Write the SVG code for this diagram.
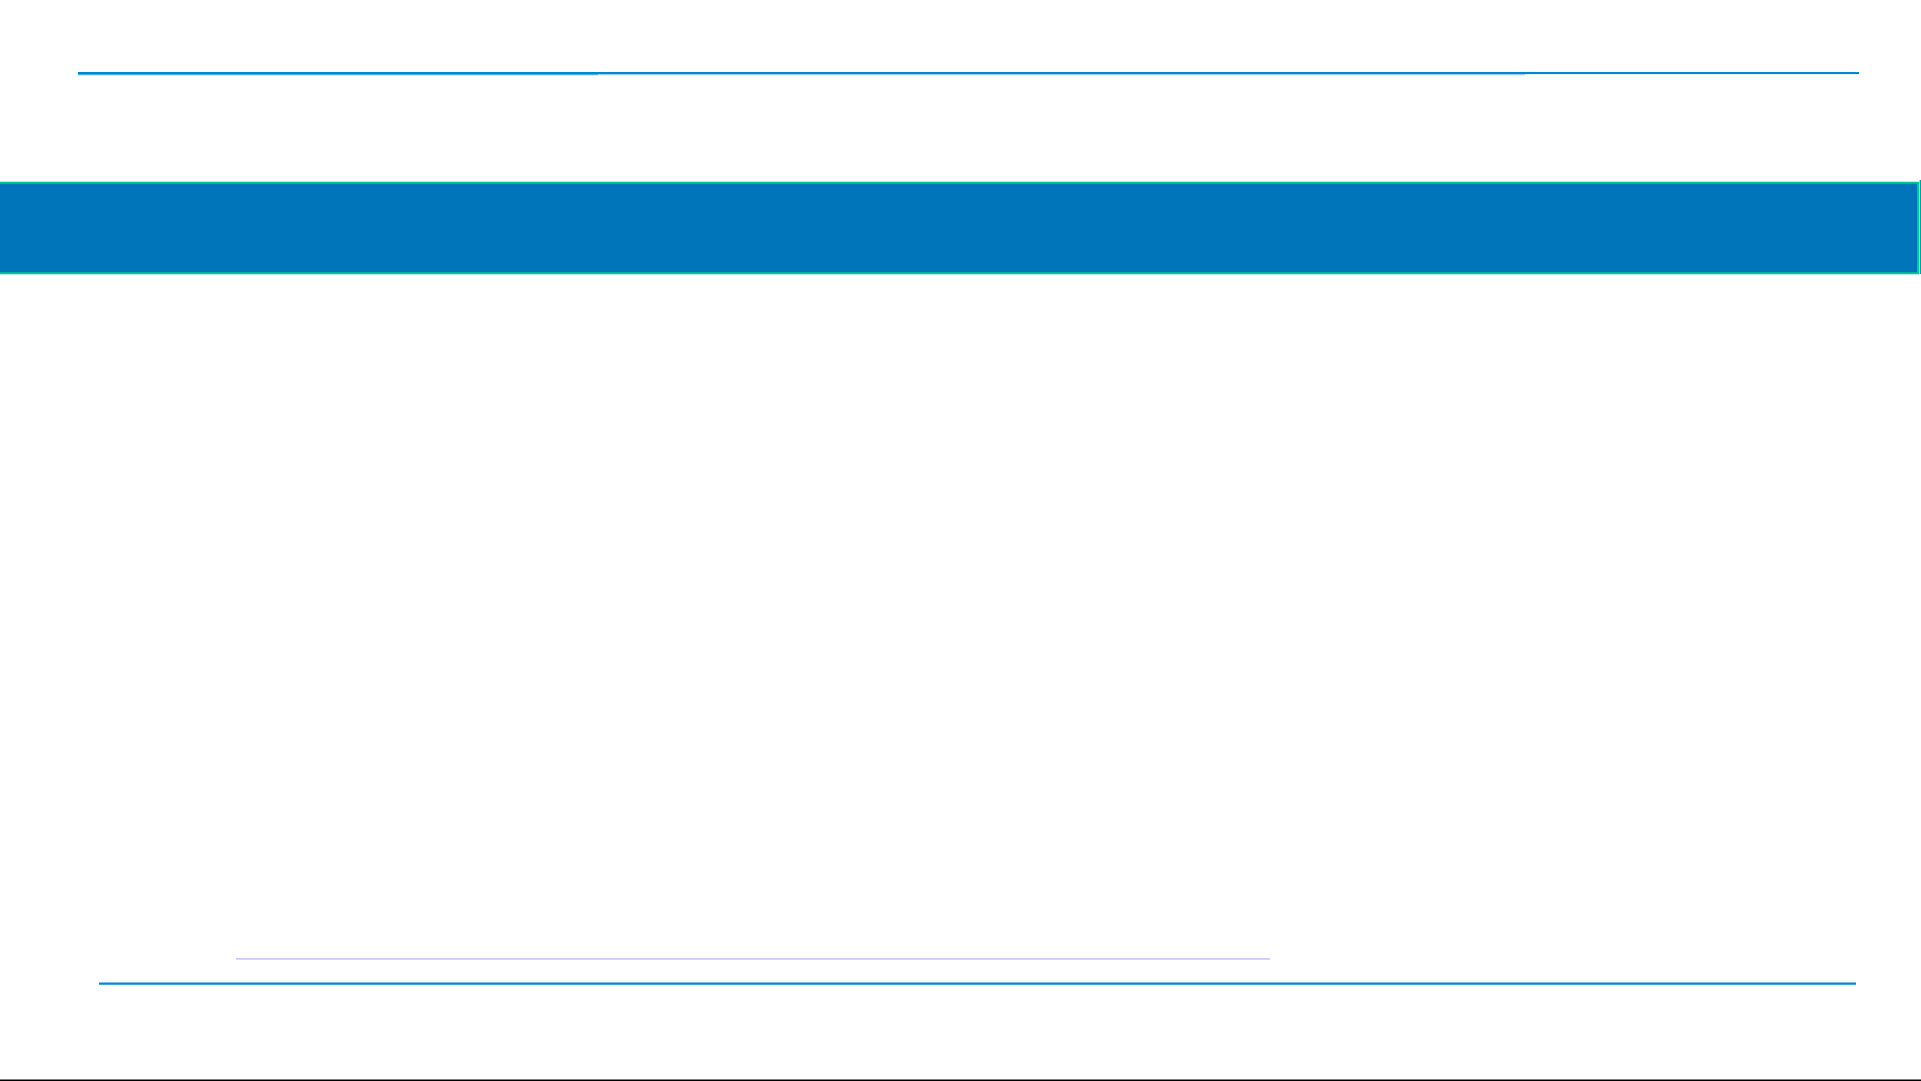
<svg xmlns="http://www.w3.org/2000/svg" width="1921" height="1081" viewBox="0 0 1921 1081">
<style>
.rule{stroke:#0088d6;stroke-width:2.2;fill:none}
</style>
<rect x="0" y="0" width="1921" height="1081" fill="#ffffff"/>
<g id="top-rule">
<line x1="78" y1="74.6" x2="598" y2="74.6" stroke="#4aaee8" stroke-width="1.4"/>
<line x1="598" y1="74.6" x2="1525" y2="74.6" stroke="#9fd0f2" stroke-width="1.4"/>
<line x1="1525" y1="74.4" x2="1859" y2="74.4" stroke="#d6ebf8" stroke-width="0.8"/>
<line class="rule" x1="78" y1="73" x2="1859" y2="73"/>
</g>
<g id="title-band">
<rect x="-3" y="182.7" width="1921" height="90.6" fill="#0075ba" stroke="#00c896" stroke-width="2"/>
<line x1="1920.3" y1="180" x2="1920.3" y2="274" stroke="#00a0a0" stroke-width="1.4"/>
</g>
<g id="bottom-rules">
<line x1="236" y1="958.8" x2="1270" y2="958.8" stroke="#ccc8f8" stroke-width="1.8"/>
<line class="rule" x1="99" y1="983.7" x2="1856" y2="983.7"/>
<line x1="0" y1="1080.2" x2="1921" y2="1080.2" stroke="#000000" stroke-width="1.6"/>
</g>
</svg>
